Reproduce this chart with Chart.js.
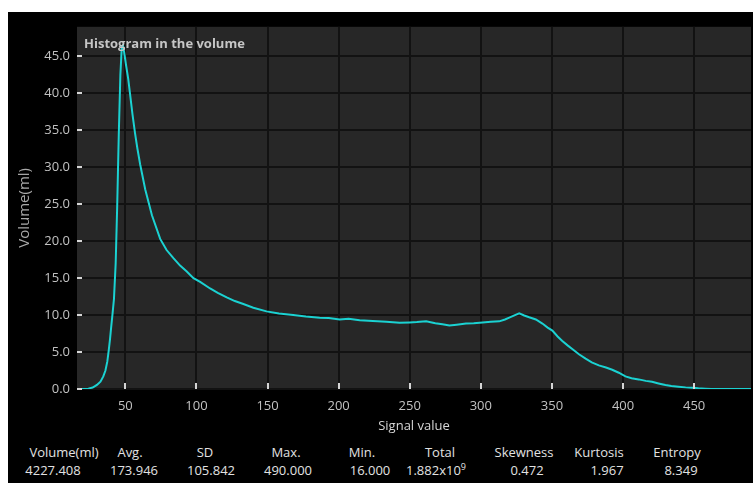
<!DOCTYPE html>
<html><head><meta charset="utf-8">
<script src="https://cdn.jsdelivr.net/npm/chart.js@4.4.1/dist/chart.umd.min.js"></script>
<style>
html,body{margin:0;padding:0;background:#fff;width:753px;height:483px;overflow:hidden}
#panel{position:absolute;left:8px;top:12px;width:745px;height:471px;background:#000}
#c{position:absolute;left:0;top:0}
.stat{position:absolute;transform:translateX(-50%);white-space:nowrap;font-family:"Open Sans";font-size:13px;color:#e2e2e2;line-height:16px}
.stat sup{font-size:9px;line-height:0;vertical-align:5px}
</style></head><body>
<div id="panel"><canvas id="c" width="745" height="428"></canvas><div id="stats"></div></div>
<script>
// Histogram of signal values in the volume
const signalValues = [16,20,24,27,30,32.5,34.5,36,37.3,38.3,39.2,40,41,42,43.2,44.3,45.4,46.5,47.5,48.3,49.2,50.5,52,53,55,56.8,58.5,60.5,64,68.7,74.5,79,83.8,88.5,93.2,97.9,102.6,109.6,115,121.3,127,133,140,149.3,158,168,177,186.7,193,200.7,207,214.8,224,233.5,242.8,250,255,261.5,268,273,277.9,283,289.6,295,301.3,307,313,317,320,324,327,330.5,334,338.7,343.3,347,350.3,354,357.3,361,364.3,369,373.7,378,383,388,392.4,397,401.7,406,411,416,420.4,425,429.8,434,439,444,448.5,453,457.8,462,470,480,490];
const volumeMl = [0,0,0.05,0.2,0.55,1.0,1.7,2.5,3.7,5.2,6.7,8.3,10.2,12.2,17,25,34.6,42.5,46.3,46.5,45.5,43.8,42.0,40.4,37.2,34.6,32.5,30.3,27.0,23.5,20.3,18.8,17.7,16.7,15.9,15.0,14.5,13.6,13.0,12.4,11.9,11.5,11.0,10.5,10.2,10.0,9.8,9.65,9.6,9.4,9.5,9.3,9.2,9.1,8.95,9.0,9.05,9.15,8.9,8.75,8.6,8.7,8.85,8.9,9.0,9.1,9.15,9.4,9.65,10.0,10.25,9.95,9.7,9.4,8.85,8.3,7.9,7.1,6.5,5.9,5.4,4.7,4.1,3.6,3.2,2.9,2.6,2.2,1.7,1.45,1.3,1.1,0.97,0.75,0.53,0.4,0.3,0.22,0.17,0.1,0.05,0,0,0,0];
const xTickValues = [50,100,150,200,250,300,350,400,450];
const yTickValues = [0,5,10,15,20,25,30,35,40,45];

// Summary statistics shown beneath the plot
const statLabels = ['Volume(ml)','Avg.','SD','Max.','Min.','Total','Skewness','Kurtosis','Entropy'];
const statValues = ['4227.408','173.946','105.842','490.000','16.000','1.882x10^9','0.472','1.967','8.349'];
const labelCenters = [56,122,197,278,354,432,516,591,669];
const valueCenters = [45,126,203,280,362,428,519,599,673];

const stats = document.getElementById('stats');
function addStat(html, cx, top){
  const d = document.createElement('div');
  d.className = 'stat';
  d.style.left = cx + 'px';
  d.style.top = top + 'px';
  d.innerHTML = html;
  stats.appendChild(d);
}
statLabels.forEach((t,i)=>addStat(t, labelCenters[i], 432));
statValues.forEach((t,i)=>{
  const parts = t.split('^');
  addStat(parts.length > 1 ? parts[0] + '<sup>' + parts[1] + '</sup>' : t, valueCenters[i], 450);
});

const plotBg = {
  id:'plotBg',
  beforeDraw(chart){
    const {ctx, chartArea:a} = chart;
    ctx.save();
    ctx.fillStyle = '#272727';
    ctx.fillRect(a.left, a.top, a.width, a.height);
    ctx.restore();
  }
};
const innerTicks = {
  id:'innerTicks',
  afterDatasetsDraw(chart){
    const {ctx, chartArea:a, scales:{x, y}} = chart;
    ctx.save();
    ctx.strokeStyle = '#d6d6d6';
    ctx.lineWidth = 2;
    x.ticks.forEach(t=>{
      const px = Math.round(x.getPixelForValue(t.value));
      ctx.beginPath(); ctx.moveTo(px, a.bottom - 6); ctx.lineTo(px, a.bottom); ctx.stroke();
    });
    y.ticks.forEach(t=>{
      const py = Math.round(y.getPixelForValue(t.value));
      ctx.beginPath(); ctx.moveTo(a.left, py); ctx.lineTo(a.left + 5, py); ctx.stroke();
    });
    ctx.font = 'bold 13px "Open Sans"';
    ctx.fillStyle = '#c6c6c6';
    ctx.textBaseline = 'alphabetic';
    ctx.fillText('Histogram in the volume', a.left + 7, a.top + 21);
    ctx.restore();
  }
};

new Chart(document.getElementById('c'), {
  type:'line',
  data:{
    datasets:[{
      data: signalValues.map((v,i)=>({x:v, y:volumeMl[i]})),
      borderColor:'#1bd2d2',
      borderWidth:2,
      pointRadius:0,
      tension:0,
      fill:false
    }]
  },
  options:{
    responsive:false,
    animation:false,
    devicePixelRatio:1,
    layout:{padding:{top:10,right:2,left:0,bottom:0}},
    plugins:{legend:{display:false},tooltip:{enabled:false}},
    scales:{
      x:{
        type:'linear', min:16, max:490,
        afterBuildTicks:s=>{ s.ticks = xTickValues.map(v=>({value:v})); },
        afterFit:s=>{ s.height = 51; },
        grid:{color:'#121212', lineWidth:2, drawTicks:false},
        border:{display:false},
        ticks:{color:'#c2c2c2', font:{family:'Open Sans', size:13}, padding:9, maxRotation:0, autoSkip:false},
        title:{display:true, text:'Signal value', color:'#d6d6d6', font:{family:'Open Sans', size:13}, padding:{top:0,bottom:6}}
      },
      y:{
        min:0, max:49,
        afterBuildTicks:s=>{ s.ticks = yTickValues.map(v=>({value:v})); },
        afterFit:s=>{ s.width = 69; },
        grid:{color:'#121212', lineWidth:2, drawTicks:false},
        border:{display:false},
        ticks:{color:'#c2c2c2', font:{family:'Open Sans', size:13}, padding:7, callback:v=>v.toFixed(1)},
        title:{display:true, text:'Volume(ml)', color:'#a9a9a9', font:{family:'Open Sans', size:15}, padding:{top:8,bottom:0}}
      }
    }
  },
  plugins:[plotBg, innerTicks]
});
</script>
</body></html>
